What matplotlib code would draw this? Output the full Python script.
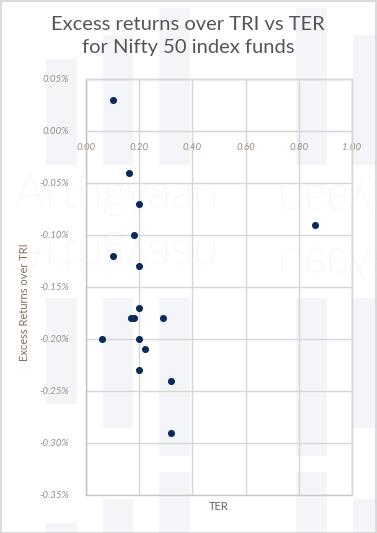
import matplotlib
matplotlib.use("Agg")
import matplotlib.pyplot as plt
from matplotlib.patches import Rectangle, PathPatch
from matplotlib.textpath import TextPath
from matplotlib.font_manager import FontProperties
from matplotlib.transforms import Affine2D, IdentityTransform

# data (TER in %, excess return over TRI in %)
ter = [0.10, 0.16, 0.20, 0.18, 0.10, 0.20, 0.20, 0.17, 0.18, 0.29,
       0.06, 0.20, 0.22, 0.20, 0.32, 0.32, 0.86]
excess = [0.03, -0.04, -0.07, -0.10, -0.12, -0.13, -0.17, -0.18, -0.18, -0.18,
          -0.20, -0.20, -0.21, -0.23, -0.24, -0.29, -0.09]

x_ticks = [0.0, 0.2, 0.4, 0.6, 0.8, 1.0]
x_labels = ['0.00', '0.20', '0.40', '0.60', '0.80', '1.00']
y_ticks = [0.05, 0.0, -0.05, -0.10, -0.15, -0.20, -0.25, -0.30, -0.35]
y_labels = ['0.05%', '0.00%', '-0.05%', '-0.10%', '-0.15%', '-0.20%',
            '-0.25%', '-0.30%', '-0.35%']

W, H = 377, 533
fig = plt.figure(figsize=(W / 100, H / 100), dpi=100)
fig.patch.set_facecolor('white')

# decorative background bars (pixel spans: x0, x1, y0, y1 from top)
bars = [
    (46, 77, 59, 165), (46, 77, 298, 404), (46, 77, 523, 533),
    (103, 133, 35, 165), (103, 133, 298, 428), (103, 133, 499, 533),
    (159, 190, 8, 165), (159, 190, 298, 456), (159, 190, 472, 533),
    (296, 327, 8, 165), (296, 327, 298, 456), (296, 327, 472, 533),
    (353, 377, 35, 165), (353, 377, 298, 428), (353, 377, 499, 533),
]
for x0, x1, y0, y1 in bars:
    fig.patches.append(Rectangle((x0 / W, 1 - y1 / H), (x1 - x0) / W, (y1 - y0) / H,
                                 transform=fig.transFigure, facecolor='#f4f5f8',
                                 edgecolor='none', zorder=-3))

# watermark
fp = FontProperties(family='Lato', weight='light')
wm = TextPath((0, 0), 'Arthgyaan', size=47, prop=fp)
wm_color = '#ededed'
placements = [
    Affine2D().translate(15, H - 207),                       # normal
    Affine2D().scale(1, -1).translate(15, H - 241),          # reflected below
    Affine2D().scale(-1, -1).translate(482, H - 186),        # rotated 180, right
    Affine2D().scale(-1, 1).translate(482, H - 272),         # mirrored, right
]
for tr in placements:
    fig.patches.append(PathPatch(wm, transform=tr + IdentityTransform(),
                                 facecolor=wm_color, edgecolor='none', zorder=-2))

# figure frame
fig.patches.append(Rectangle((0.5 / W, 0.5 / H), 1 - 1.5 / W, 1 - 1.5 / H,
                             transform=fig.transFigure, fill=False,
                             edgecolor='#d4d4d4', linewidth=1.2, zorder=-1))

ax = fig.add_axes([86 / W, 1 - 495 / H, (352 - 86) / W, (495 - 79) / H])
ax.set_facecolor('none')
ax.set_xlim(0, 1.0)
ax.set_ylim(-0.35, 0.05)

ax.scatter(ter, excess, s=26, color='#0b2a5b', zorder=3, linewidths=0)

grid_c = '#d6d6d6'
ax.set_xticks(x_ticks)
ax.set_xticklabels(x_labels)
ax.set_yticks(y_ticks)
ax.set_yticklabels(y_labels)
ax.grid(True, color=grid_c, linewidth=1)
ax.set_axisbelow(True)
for s in ['top', 'right', 'left']:
    ax.spines[s].set_color(grid_c)
ax.spines['left'].set_color('#c4c4c4')
ax.spines['bottom'].set_position(('data', 0))
ax.spines['bottom'].set_color(grid_c)
ax.add_patch(Rectangle((0, 0), 1, 1, transform=ax.transAxes, fill=False,
                       edgecolor='#c8c8c8', linewidth=1, clip_on=False, zorder=2))

tick_c = '#9a8e84'
ax.tick_params(axis='both', length=0, labelsize=7, labelcolor=tick_c)
ax.tick_params(axis='x', pad=9)
ax.tick_params(axis='y', pad=12)
for lab in ax.get_xticklabels() + ax.get_yticklabels():
    lab.set_family('Lato')
    lab.set_style('italic')

fig.text(25 / W, 1 - 302 / H, 'Excess Returns over TRI', rotation=90,
         ha='center', va='center', fontsize=8, color='#8a6e58', family='Lato')
fig.text(219 / W, 1 - 507 / H, 'TER', ha='center', va='center',
         fontsize=8, color='#666666', family='Lato')
fig.text(188 / W, 1 - 36 / H, 'Excess returns over TRI vs TER\nfor Nifty 50 index funds',
         ha='center', va='center', fontsize=14.5, color='#555555',
         family='Lato', linespacing=1.45)

fig.savefig('out.png', dpi=100)
